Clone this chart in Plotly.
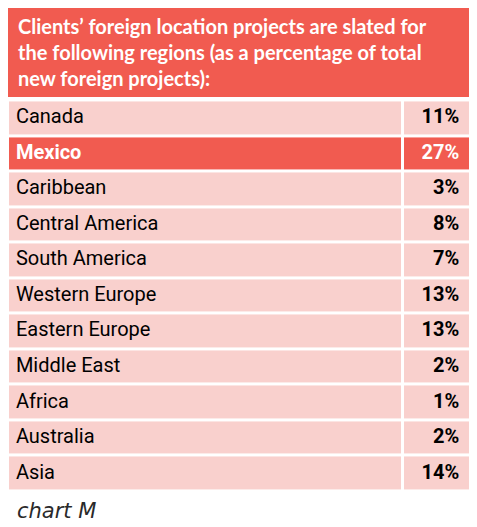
"""
Table of planned foreign location projects by region (chart M).
"""

import plotly.graph_objects as go

# data
regions = ['Canada', 'Mexico', 'Caribbean', 'Central America', 'South America',
           'Western Europe', 'Eastern Europe', 'Middle East', 'Africa',
           'Australia', 'Asia']
shares = [11, 27, 3, 8, 7, 13, 13, 2, 1, 2, 14]
highlight = 'Mexico'

title_lines = ["Clients\u2019 foreign location projects are slated for",
               "the following regions (as a percentage of total",
               "new foreign projects):"]
footnote = 'chart M'

# the page body has an 8px margin, so the figure is a bit smaller than the window
W, H = 469, 519
red = '#F15B50'
pink = '#F9D0CD'
body_font = 'Roboto'


# positions below are given in reference-image pixels
def px(x):
    return (x - 2) / 475


def py(y):
    return 1 - (y - 2) / 525


flags = [1 if r == highlight else 0 for r in regions]
names = [f'<b>{r}</b>' if r == highlight else r for r in regions]
pcts = [f'<b>{s}%</b>' for s in shares]
text_colors = ['white' if f else 'black' for f in flags]

fig = go.Figure()

# cell backgrounds: two columns (label / value), highlighted row in red
fig.add_trace(go.Heatmap(
    x=[0, 400, 472],
    y=regions,
    z=[[f, f] for f in flags],
    zmin=0, zmax=1,
    colorscale=[[0, pink], [1, red]],
    showscale=False,
    xgap=3, ygap=3,
    hoverinfo='skip',
))

fig.add_trace(go.Scatter(
    x=[8] * len(regions), y=regions, text=names,
    mode='text', textposition='middle right',
    textfont=dict(family=body_font, size=20, color=text_colors),
    cliponaxis=False, hoverinfo='skip',
))

fig.add_trace(go.Scatter(
    x=[457] * len(regions), y=regions, text=pcts,
    mode='text', textposition='middle left',
    textfont=dict(family=body_font, size=20, color=text_colors),
    cliponaxis=False, hoverinfo='skip',
))

fig.update_layout(
    width=W, height=H, autosize=False,
    margin=dict(l=0, r=0, t=0, b=0),
    paper_bgcolor='white', plot_bgcolor='white',
    showlegend=False,
    xaxis=dict(domain=[px(2), px(474)], range=[0, 472], visible=False,
               fixedrange=True),
    yaxis=dict(domain=[py(493), py(93.5)], autorange='reversed',
               visible=False, fixedrange=True),
    shapes=[dict(type='rect', xref='paper', yref='paper',
                 x0=px(2), x1=px(474), y0=py(92), y1=py(2),
                 fillcolor=red, line=dict(width=0), layer='below')],
    annotations=[
        dict(text='<b>' + '<br>'.join(title_lines) + '</b>',
             xref='paper', yref='paper',
             x=px(10), y=py(47), xanchor='left', yanchor='middle',
             align='left', showarrow=False,
             font=dict(family='Lato', size=20, color='white')),
        dict(text=footnote, xref='paper', yref='paper',
             x=px(9), y=py(511), xanchor='left', yanchor='middle',
             showarrow=False,
             font=dict(family='DejaVu Sans', size=21, color='#2a2a2a',
                       style='italic')),
    ],
)

fig.write_html("out.html")
